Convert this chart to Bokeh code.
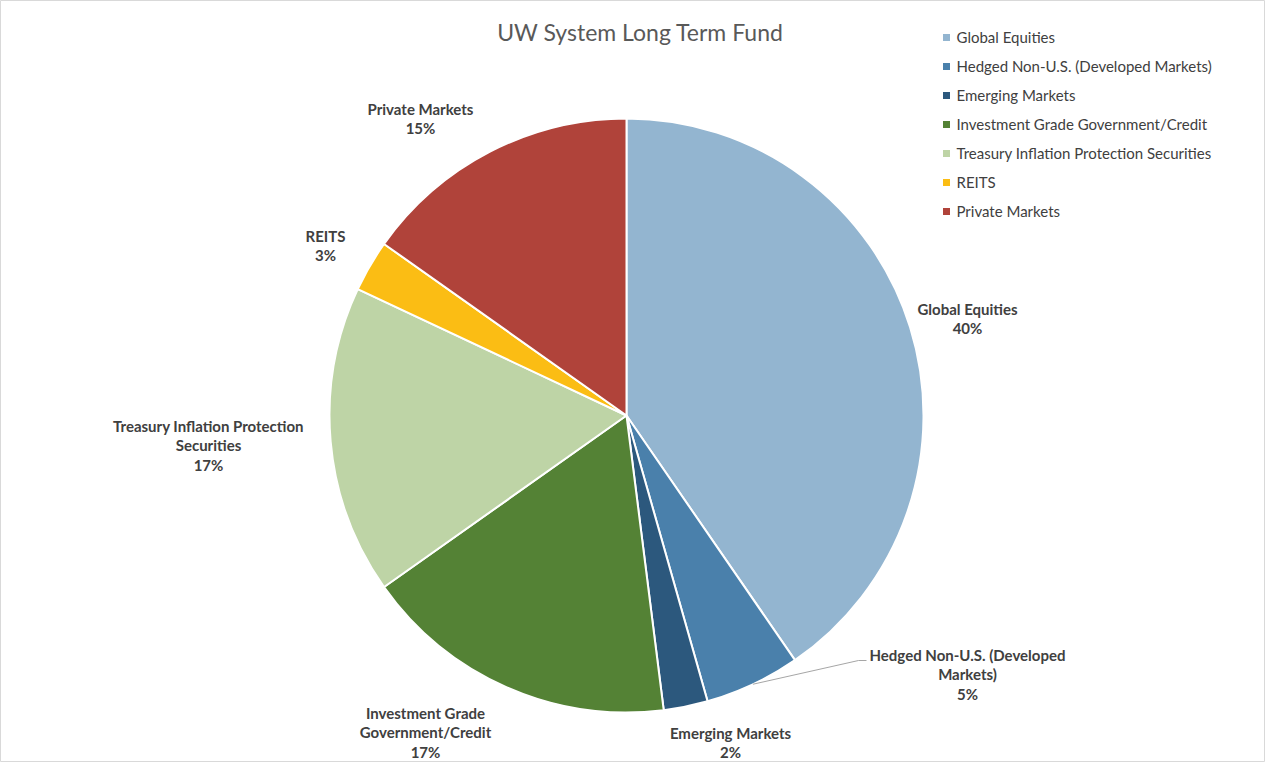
import numpy as np
from bokeh.plotting import figure
from bokeh.models import Range1d, ColumnDataSource
from bokeh.embed import file_html
from bokeh.resources import INLINE
from bokeh.core.properties import value

# ---------------- data ----------------
chart_title = "UW System Long Term Fund"
categories = [
    "Global Equities",
    "Hedged Non-U.S. (Developed Markets)",
    "Emerging Markets",
    "Investment Grade Government/Credit",
    "Treasury Inflation Protection Securities",
    "REITS",
    "Private Markets",
]
shares = [40.4, 5.2, 2.4, 17.2, 16.8, 2.8, 15.2]
label_names = [
    "Global Equities",
    "Hedged Non-U.S. (Developed\nMarkets)",
    "Emerging Markets",
    "Investment Grade\nGovernment/Credit",
    "Treasury Inflation Protection\nSecurities",
    "REITS",
    "Private Markets",
]
colors = ["#93B5D0", "#4A80AB", "#2C587D", "#548235", "#BED4A6", "#FBBD14", "#B0433A"]

# ---------------- layout (styling) ----------------
W, H = 1265, 762
FONT = "Lato"
cx, cy, R = 626, H - 415, 297      # pie centre (data units = px), radius px
# label block centres relative to the pie centre
label_dx = [341, 341, 104, -201, -418, -301, -206]
label_dy = [97, -259, -327, -317, -30, 170, 297]

p = figure(width=W, height=H, output_backend="svg", toolbar_location=None,
           x_range=Range1d(0, W), y_range=Range1d(0, H),
           min_border=0, background_fill_color="white",
           border_fill_color="white", outline_line_color="#D9D9D9")
p.axis.visible = False
p.grid.visible = False

vals = np.array(shares, dtype=float)
frac = vals / vals.sum()
cum1 = np.cumsum(frac)
cum0 = cum1 - frac
# clockwise from 12 o'clock -> bokeh anticlockwise from +x
start = np.radians(90 - 360 * cum1)
end = np.radians(90 - 360 * cum0)

src = ColumnDataSource(dict(x=[cx] * len(vals), y=[cy] * len(vals),
                            start=start, end=end, color=colors, name=categories))
p.wedge(x="x", y="y", radius=R, radius_units="screen", start_angle="start",
        end_angle="end", fill_color="color", line_color="white", line_width=2,
        source=src)

# data labels
pct = [f"{int(np.floor(v * 100 + 0.5))}%" for v in frac]
ltext = [f"{n}\n{q}" for n, q in zip(label_names, pct)]
lsrc = ColumnDataSource(dict(x=[cx + d for d in label_dx], y=[cy + d for d in label_dy], t=ltext))
p.text(x="x", y="y", text="t", source=lsrc, text_align="center", text_baseline="middle",
       text_font=value(FONT), text_font_style="bold", text_font_size="15px",
       text_color="#404040", text_line_height=1.1)

# leader line for the Hedged slice
mid = np.radians(360 * (cum0[1] + cum1[1]) / 2)
lx0, ly0 = cx + R * np.sin(mid), cy + R * np.cos(mid)
p.line(x=[lx0, cx + 232, cx + 240], y=[ly0, cy - 245, cy - 245], line_color="#A6A6A6", line_width=1)

# title
p.text(x=[640], y=[H - 31], text=[chart_title], text_align="center", text_baseline="middle",
       text_font=value(FONT), text_font_size="23px", text_color="#595959")

# legend (manual)
n = len(categories)
leg_y = [H - (36 + 29 * i) for i in range(n)]
p.scatter(x=[946] * n, y=[y - 1 for y in leg_y], marker="square", size=7, fill_color=colors, line_color=None)
p.text(x=[956] * n, y=leg_y, text=categories, text_align="left", text_baseline="middle",
       text_font=value(FONT), text_font_size="15px", text_color="#404040")

open("out.html", "w").write(file_html(p, INLINE))
